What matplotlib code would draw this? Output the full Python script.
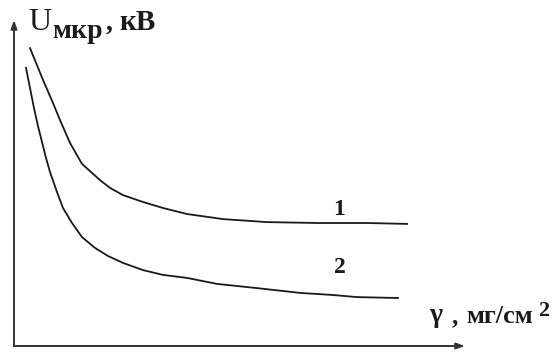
import matplotlib

matplotlib.use("Agg")
import matplotlib.pyplot as plt

# gamma (arbitrary units) and critical voltage for the two curves
gamma_1 = [0.40, 0.725, 0.975, 1.15, 1.40, 1.70, 2.15, 2.40, 2.725, 3.225, 3.725,
           4.325, 5.225, 6.325, 7.575, 8.825, 9.825]
u_1 = [9.93, 8.87, 8.10, 7.53, 6.77, 6.07, 5.53, 5.27, 5.03, 4.80, 4.60,
       4.40, 4.23, 4.13, 4.10, 4.10, 4.07]

gamma_2 = [0.30, 0.40, 0.50, 0.60, 0.70, 0.80, 0.90, 1.075, 1.225, 1.45, 1.70,
           2.025, 2.35, 2.725, 3.225, 3.725, 4.325, 5.075, 6.075, 7.15, 7.975,
           8.575, 9.60]
u_2 = [9.27, 8.60, 7.93, 7.33, 6.80, 6.27, 5.80, 5.13, 4.60, 4.10, 3.63,
       3.27, 3.00, 2.77, 2.53, 2.37, 2.27, 2.07, 1.93, 1.77, 1.70,
       1.63, 1.60]

curve_labels = ["1", "2"]
label_pos = [(8.125, 4.37), (8.15, 2.43)]

W, H = 555, 353
fig = plt.figure(figsize=(W / 100, H / 100), dpi=100)
x0, y0 = 14, 346
ax = fig.add_axes([x0 / W, (H - y0) / H, (465 - x0) / W, (y0 - 20) / H])
ax.set_xlim(0, (465 - x0) / 40)
ax.set_ylim(0, (y0 - 20) / 30)
ax.axis("off")

ink = "#1a1a1a"
ax.plot(gamma_1, u_1, color=ink, lw=1.3)
ax.plot(gamma_2, u_2, color=ink, lw=1.3)

serif = "Liberation Serif"
for text, (lx, ly) in zip(curve_labels, label_pos):
    ax.text(lx, ly, text, fontsize=17, family=serif, weight="bold",
            ha="center", va="baseline", color=ink)

# axes with arrow heads
arrow = dict(arrowstyle="-|>,head_length=0.5,head_width=0.18", color="#333333",
             lw=1.4, shrinkA=0, shrinkB=0)
ax.annotate("", xy=(1, 0), xytext=(0, 0), xycoords="axes fraction",
            arrowprops=arrow, annotation_clip=False)
ax.annotate("", xy=(0, 1), xytext=(0, 0), xycoords="axes fraction",
            arrowprops=arrow, annotation_clip=False)


def label(px, baseline, s, size, weight="normal"):
    fig.text(px / W, 1 - baseline / H, s, fontsize=size, family=serif,
             weight=weight, color=ink, va="baseline")


# axis titles
label(28, 30, "U", 23)
label(52, 38, "мкр", 20, "bold")
label(106, 30, ",", 20, "bold")
label(119, 30, "кВ", 21, "bold")

label(429, 322, "γ", 20, "bold")
label(452, 323, ",", 18, "bold")
label(466, 323, "мг/см", 19, "bold")
label(538, 316, "2", 16, "bold")

fig.savefig("out.png", dpi=100, facecolor="white")
